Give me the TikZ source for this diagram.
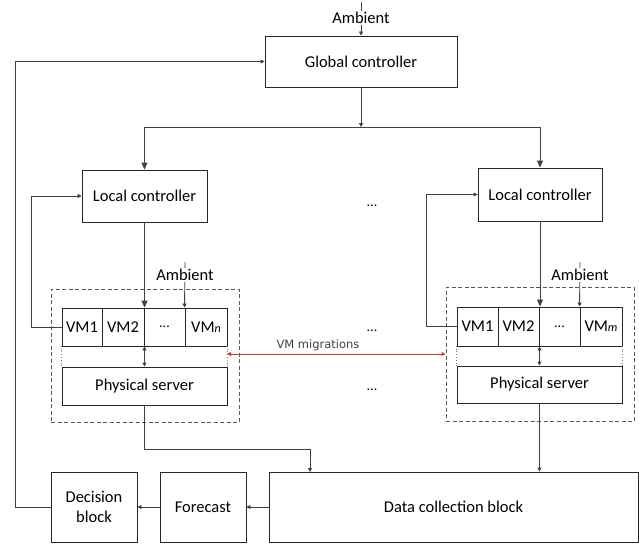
\documentclass[tikz,border=0pt]{standalone}
\usepackage{fontspec}
\setmainfont{Carlito}
\newfontfamily\migfont{DejaVu Sans}
\usetikzlibrary{arrows.meta}
\definecolor{migred}{RGB}{214,54,54}
\begin{document}
\begin{tikzpicture}[x=1pt,y=-1pt,
  txt/.style={font=\fontsize{16.5}{20}\selectfont},
  box/.style={txt, draw=black!85, line width=0.9pt, inner sep=0pt, align=center},
  dashbox/.style={draw=black!65, line width=0.9pt, dash pattern=on 4pt off 2.5pt, inner sep=0pt},
  conn/.style={draw=black!75, line width=0.9pt},
  tip/.style={-{Triangle[length=4pt,width=4pt]}},
  bigtip/.style={-{Triangle[length=7pt,width=6pt]}},
  dtip/.style={{Triangle[length=4pt,width=4pt]}-{Triangle[length=4pt,width=4pt]}},
  lab/.style={txt, fill=white, inner sep=1pt},
  dots/.style={font=\fontsize{14}{16}\selectfont, inner sep=0pt},
  slot/.style={inner sep=0pt}
]
\useasboundingbox (0,0) rectangle (639,543);

% dashed server groups
\node[dashbox, minimum width=188, minimum height=133] (dashL) at (145,355.5) {};
\node[dashbox, minimum width=188, minimum height=134] (dashR) at (540,354) {};

% controllers
\node[box, minimum width=192, minimum height=51] (gc) at (361,61.5) {Global controller};
\node[box, minimum width=125, minimum height=52] (lcL) at (144.5,196) {Local controller};
\node[box, minimum width=124, minimum height=53] (lcR) at (540,194.5) {Local controller};

% left server
\node[box, minimum width=40, minimum height=38] (vm1L) at (82,327) {VM1};
\node[box, minimum width=42, minimum height=38] (vm2L) at (123,327) {VM2};
\node[box, minimum width=41, minimum height=38] (dotsL) at (164.5,327) {\fontsize{14}{16}\selectfont ...};
\node[box, minimum width=42, minimum height=38] (vmnL) at (206,327) {VM{\fontsize{12}{14}\selectfont\itshape n}};
\node[slot, minimum width=165, minimum height=21] (slotL) at (144.5,356.5) {};
\node[box, minimum width=165, minimum height=38] (psL) at (144.5,386) {Physical server};
\draw[black!50, line width=0.8pt, dotted] (slotL.north west) -- (slotL.south west);
\draw[black!50, line width=0.8pt, dotted] (slotL.north east) -- (slotL.south east);

% right server
\node[box, minimum width=41, minimum height=39] (vm1R) at (477.5,326.5) {VM1};
\node[box, minimum width=41, minimum height=39] (vm2R) at (518.5,326.5) {VM2};
\node[box, minimum width=41, minimum height=39] (dotsR) at (559.5,326.5) {\fontsize{14}{16}\selectfont ...};
\node[box, minimum width=42, minimum height=39] (vmmR) at (601,326.5) {VM{\fontsize{12}{14}\selectfont\itshape m}};
\node[slot, minimum width=165, minimum height=20] (slotR) at (539.5,356) {};
\node[box, minimum width=165, minimum height=37] (psR) at (539.5,384.5) {Physical server};
\draw[black!50, line width=0.8pt, dotted] (slotR.north west) -- (slotR.south west);
\draw[black!50, line width=0.8pt, dotted] (slotR.north east) -- (slotR.south east);

% bottom blocks
\node[box, minimum width=86, minimum height=70] (dec) at (94,507) {Decision\\block};
\node[box, minimum width=86, minimum height=70] (fc) at (203,507) {Forecast};
\node[box, minimum width=369, minimum height=70] (dc) at (453.5,507) {Data collection block};

% coordinates
\coordinate (ambTt) at (361,2);
\coordinate (ambLt) at (185,262);
\coordinate (ambRt) at (580,262);
\coordinate (busC) at (361,127);
\coordinate (busL) at (144.5,127);
\coordinate (busR) at (540,127);
\coordinate (bendL) at (144.5,449);
\coordinate (dcinL) at (310,472);
\coordinate (fbX) at (15,507);
\coordinate (migL) at (227,354);

% global controller in/out
\draw[conn,tip] (ambTt) -- (gc.north);
\node[lab] (ambT) at (361,18) {Ambient};
\draw[conn,tip] (gc.south) -- (busC);
\draw[conn] (busL) -- (busR);
\draw[conn,bigtip] (busL) -- (lcL.north);
\draw[conn,bigtip] (busR) -- (lcR.north);

% left local loop
\draw[conn,bigtip] (lcL.south) -- (lcL.south |- vm2L.north);
\draw[conn,dtip] (vm2L.south east) -- (vm2L.south east |- psL.north);
\draw[conn,tip] (ambLt) -- (vmnL.north west);
\node[lab] (ambL) at (185,275) {Ambient};
\draw[conn,tip] (vm1L.west) -- ++(-30,0) |- (lcL.west);

% right local loop
\draw[conn,bigtip] (lcR.south) -- (lcR.south |- vm2R.north);
\draw[conn,dtip] (vm2R.south east) -- (vm2R.south east |- psR.north);
\draw[conn,tip] (ambRt) -- (vmmR.north west);
\node[lab] (ambR) at (580,275) {Ambient};
\draw[conn,tip] (vm1R.west) -- ++(-30,0) |- (lcR.west);

% VM migrations
\draw[draw=migred, line width=0.9pt, dtip] (migL) -- (migL -| dashR.west);
\node[font=\migfont\fontsize{11.5}{13}\selectfont, text=black!75, inner sep=0pt] (mig) at (318,345) {VM migrations};

% to data collection
\draw[conn,tip] (psL.south) -- (bendL) -| (dcinL);
\draw[conn,tip] (psR.south) -- (psR.south |- dc.north);
\draw[conn,tip] (dc.west) -- (fc.east);
\draw[conn,tip] (fc.west) -- (dec.east);
\draw[conn,tip] (dec.west) -- (fbX) |- (gc.west);

% ellipses
\node[dots] (e1) at (372,206) {...};
\node[dots] (e2) at (372,331) {...};
\node[dots] (e3) at (372,390) {...};
\end{tikzpicture}
\end{document}
